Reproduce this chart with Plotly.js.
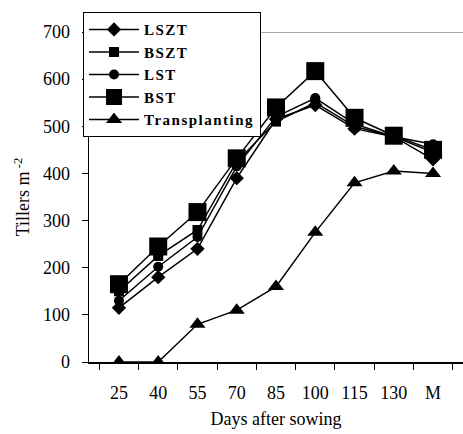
<!DOCTYPE html>
<html>
<head>
<meta charset="utf-8">
<script src="https://cdn.plot.ly/plotly-3.0.1.min.js"></script>
<style>html,body{margin:0;padding:0;background:#fff;} .legendtext{letter-spacing:1.5px;}</style>
</head>
<body>
<div id="chart" style="width:463px;height:434px;"></div>
<script>
var categories = ["25", "40", "55", "70", "85", "100", "115", "130", "M"];
var lszt = [115, 180, 240, 390, 515, 545, 495, 478, 430];
var bszt = [150, 225, 280, 425, 510, 550, 500, 478, 445];
var lst = [130, 202, 265, 415, 520, 560, 505, 478, 462];
var bst = [165, 245, 318, 432, 540, 617, 518, 480, 450];
var transplanting = [0, 0, 80, 110, 160, 275, 380, 405, 400];

function tr(name, y, symbol, size) {
  return {
    x: categories, y: y, name: name, type: "scatter", mode: "lines+markers",
    line: {color: "#000", width: 1.5},
    marker: {symbol: symbol, size: size, color: "#000"}
  };
}
var data = [
  tr("LSZT", lszt, "diamond", 11),
  tr("BSZT", bszt, "square", 10),
  tr("LST", lst, "circle", 10),
  tr("BST", bst, "square", 18),
  tr("Transplanting", transplanting, "triangle-up", 14)
];
var layout = {
  width: 463, height: 434,
  margin: {l: 89, r: 0, t: 32, b: 72},
  paper_bgcolor: "#fff", plot_bgcolor: "#fff",
  font: {family: "Liberation Serif, Times New Roman, serif", size: 18, color: "#000"},
  showlegend: true,
  legend: {
    x: -0.016, y: 1.06, xanchor: "left", yanchor: "top",
    bgcolor: "#fff", bordercolor: "#000", borderwidth: 1,
    itemwidth: 50,
    font: {family: "Liberation Serif, Times New Roman, serif", size: 15, color: "#000", weight: "bold"},
    tracegroupgap: 0
  },
  xaxis: {
    type: "category", showline: true, linecolor: "#000", linewidth: 1.5,
    ticks: "outside", tickson: "boundaries", ticklen: 6, tickcolor: "#000",
    showgrid: false, zeroline: false, ticklabelstandoff: 14,
    title: {text: "Days after sowing", font: {size: 18, color: "#000"}, standoff: 10}
  },
  yaxis: {
    range: [0, 700], dtick: 100, showline: true, linecolor: "#000", linewidth: 1.5,
    ticks: "outside", ticklen: 6, tickcolor: "#000",
    showgrid: false, zeroline: false, ticklabelstandoff: 8,
    title: {text: "Tillers m<sup> -2</sup>", font: {size: 18, color: "#000"}, standoff: 8}
  },
  shapes: [{type: "line", xref: "paper", yref: "y", x0: 0, x1: 1, y0: 700, y1: 700,
            line: {color: "#888", width: 1.5}, layer: "below"}]
};
Plotly.newPlot("chart", data, layout, {displayModeBar: false, staticPlot: true});
</script>
</body>
</html>
